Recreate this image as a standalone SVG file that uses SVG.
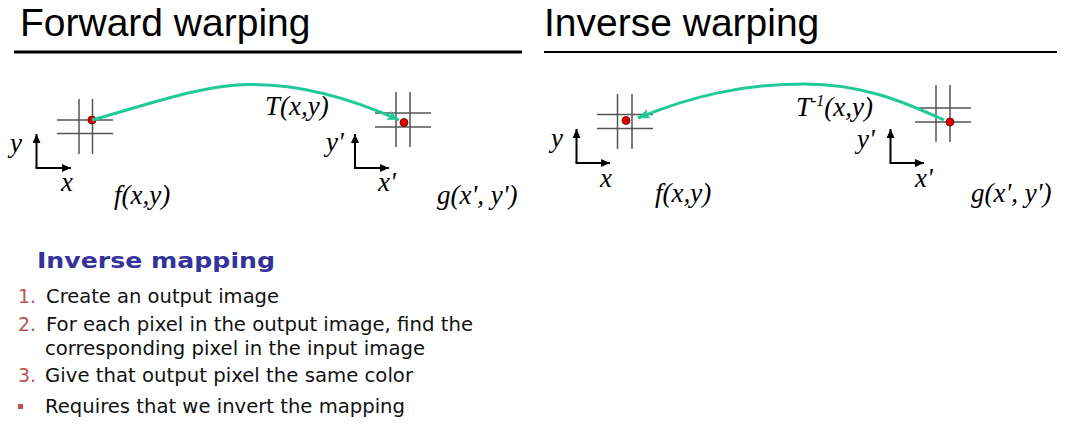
<svg xmlns="http://www.w3.org/2000/svg" width="1068" height="428" viewBox="0 0 1068 428">
<style>
.title{font-family:"Liberation Sans",Arial,sans-serif;font-size:39px;fill:#000}
.math{font-family:"Liberation Serif","Times New Roman",serif;font-style:italic;font-size:27px;fill:#000}
.grid{stroke:#555;stroke-width:1.5;fill:none}
.axis{stroke:#000;stroke-width:2;fill:none}
.dot{fill:#e00000;stroke:#600;stroke-width:0.8}
.warp{stroke:#1fc99a;stroke-width:3;fill:none}
.head{font-family:"DejaVu Sans",Verdana,sans-serif;font-weight:bold;font-size:22px;fill:#333399}
.item{font-family:"DejaVu Sans",Verdana,sans-serif;font-size:19px;fill:#111}
.num{fill:#c0504d}
</style>
<defs>
<marker id="ah" markerUnits="userSpaceOnUse" markerWidth="14" markerHeight="12" refX="12" refY="5" orient="auto">
<path d="M0,0 L12,5 L0,10 L3,5 Z" fill="#1fc99a"/>
</marker>
<marker id="ax" markerUnits="userSpaceOnUse" markerWidth="10" markerHeight="10" refX="9" refY="4" orient="auto">
<path d="M0,0 L9,4 L0,8 Z" fill="#000"/>
</marker>
</defs>

<g id="header-forward">
<text class="title" x="20" y="36">Forward warping</text>
<line x1="14" y1="52" x2="522" y2="52" stroke="#000" stroke-width="3"/>
</g>
<g id="header-inverse">
<text class="title" x="544" y="36">Inverse warping</text>
<line x1="544" y1="52" x2="1057" y2="52" stroke="#000" stroke-width="2"/>
</g>

<!-- Forward warping -->
<g id="fw-source">
<path class="grid" d="M79,99 V154 M92.5,99 V154 M57,120 H113 M57,133.5 H113"/>
<circle class="dot" cx="92" cy="120" r="4"/>
<path class="axis" d="M36.5,168 V134" marker-end="url(#ax)"/>
<path class="axis" d="M35.5,168 H71" marker-end="url(#ax)"/>
<text class="math" x="10" y="152">y</text>
<text class="math" x="61" y="191">x</text>
<text class="math" x="114" y="204">f(x,y)</text>
</g>
<g id="fw-target">
<path class="grid" d="M396,92 V147 M410,92 V147 M375,113 H431 M375,127 H431"/>
<circle class="dot" cx="404" cy="122.5" r="4"/>
<path class="axis" d="M355,168 V134" marker-end="url(#ax)"/>
<path class="axis" d="M354,168 H389" marker-end="url(#ax)"/>
<text class="math" x="326" y="151">y'</text>
<text class="math" x="378" y="191">x'</text>
<text class="math" x="437" y="204">g(x', y')</text>
</g>
<text class="math" x="265" y="115">T(x,y)</text>

<!-- Inverse warping -->
<g id="iw-source">
<path class="grid" d="M617.5,94 V149 M632,94 V149 M597,114.5 H653 M597,128.5 H653"/>
<circle class="dot" cx="626" cy="120.5" r="4"/>
<path class="axis" d="M576.5,163 V129" marker-end="url(#ax)"/>
<path class="axis" d="M575.5,163 H610" marker-end="url(#ax)"/>
<text class="math" x="551" y="147">y</text>
<text class="math" x="600" y="187">x</text>
<text class="math" x="655" y="202">f(x,y)</text>
</g>
<g id="iw-target">
<path class="grid" d="M936,85 V142 M950,85 V142 M915,108 H971 M915,122 H971"/>
<circle class="dot" cx="950" cy="122" r="4"/>
<path class="axis" d="M890.5,163 V129" marker-end="url(#ax)"/>
<path class="axis" d="M889.5,163 H924" marker-end="url(#ax)"/>
<text class="math" x="857" y="148">y'</text>
<text class="math" x="915" y="187">x'</text>
<text class="math" x="971" y="202">g(x', y')</text>
</g>
<text class="math" x="796" y="116">T<tspan font-size="16" dy="-10">-1</tspan><tspan dy="10">(x,y)</tspan></text>

<g id="connectors">
<path class="warp" d="M92,120 C150,104 200,85 250,84.5 C300,84 350,98 399,120" marker-end="url(#ah)"/>
<path class="warp" d="M944,120 C900,100 860,84 805,84 C740,84 690,97 638,118" marker-end="url(#ah)"/>
</g>

<g id="notes">
<text class="head" x="37" y="268" textLength="238" lengthAdjust="spacingAndGlyphs">Inverse mapping</text>
<text class="item num" x="18" y="303">1.</text>
<text class="item" x="46" y="303" textLength="233" lengthAdjust="spacingAndGlyphs">Create an output image</text>
<text class="item num" x="18" y="331">2.</text>
<text class="item" x="46" y="331" textLength="427" lengthAdjust="spacingAndGlyphs">For each pixel in the output image, find the</text>
<text class="item" x="45" y="355" textLength="380" lengthAdjust="spacingAndGlyphs">corresponding pixel in the input image</text>
<text class="item num" x="18" y="382">3.</text>
<text class="item" x="45" y="382" textLength="368" lengthAdjust="spacingAndGlyphs">Give that output pixel the same color</text>
<rect x="18" y="404" width="5" height="5" fill="#c0504d"/>
<text class="item" x="45" y="413" textLength="360" lengthAdjust="spacingAndGlyphs">Requires that we invert the mapping</text>
</g>
</svg>
